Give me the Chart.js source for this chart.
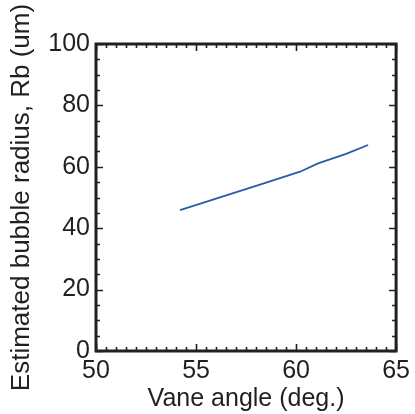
<!DOCTYPE html>
<html>
<head>
<meta charset="utf-8">
<script src="https://cdn.jsdelivr.net/npm/chart.js@4/dist/chart.umd.min.js"></script>
<style>
  html, body { margin: 0; padding: 0; background: #fff; }
  #wrap { width: 415px; height: 414px; }
</style>
</head>
<body>
<div id="wrap"><canvas id="c" width="415" height="414"></canvas></div>
<script>
// Vane angle (deg.) and estimated bubble radius Rb (um)
const vaneAngle = [54.2, 56.0, 58.0, 60.2, 61.1, 62.5, 63.6];
const bubbleRadius = [45.9, 49.6, 53.8, 58.4, 61.1, 64.2, 67.1];

const xTicks = [50, 55, 60, 65];
const yTicks = [0, 20, 40, 60, 80, 100];
const xMinorStep = 0.5;
const yMinorStep = 5;

const ink = '#231f20';
const font = 'Liberation Sans, Arial, sans-serif';

// Boxed frame with inward major/minor ticks on all four sides
const framePlugin = {
  id: 'frame',
  afterDraw(chart) {
    const { ctx, chartArea: a, scales } = chart;
    const xs = scales.x, ys = scales.y;
    ctx.save();
    ctx.strokeStyle = ink;
    ctx.lineWidth = 1.6;
    const major = 7, minor = 4;
    for (let v = xs.min; v <= xs.max + 1e-9; v += xMinorStep) {
      const isMajor = xTicks.some(t => Math.abs(t - v) < 1e-6);
      const len = isMajor ? major : minor;
      const px = Math.round(xs.getPixelForValue(v)) + 0.5;
      ctx.beginPath();
      ctx.moveTo(px, a.bottom); ctx.lineTo(px, a.bottom - len);
      ctx.moveTo(px, a.top); ctx.lineTo(px, a.top + len);
      ctx.stroke();
    }
    for (let v = ys.min; v <= ys.max + 1e-9; v += yMinorStep) {
      const isMajor = yTicks.some(t => Math.abs(t - v) < 1e-6);
      const len = isMajor ? major : minor;
      const py = Math.round(ys.getPixelForValue(v)) + 0.5;
      ctx.beginPath();
      ctx.moveTo(a.left, py); ctx.lineTo(a.left + len, py);
      ctx.moveTo(a.right, py); ctx.lineTo(a.right - len, py);
      ctx.stroke();
    }
    ctx.lineWidth = 3;
    ctx.strokeRect(a.left, a.top, a.right - a.left, a.bottom - a.top);
    ctx.restore();
  }
};

new Chart(document.getElementById('c'), {
  type: 'scatter',
  data: {
    datasets: [{
      data: vaneAngle.map((x, i) => ({ x, y: bubbleRadius[i] })),
      showLine: true,
      borderColor: '#2b5aa8',
      borderWidth: 1.8,
      pointRadius: 0,
      tension: 0
    }]
  },
  options: {
    responsive: false,
    animation: false,
    devicePixelRatio: 1,
    layout: { padding: { left: 0, top: 44, right: 14, bottom: 0 } },
    plugins: { legend: { display: false }, tooltip: { enabled: false } },
    scales: {
      x: {
        type: 'linear', min: 50, max: 65,
        afterBuildTicks: s => { s.ticks = xTicks.map(v => ({ value: v })); },
        afterFit: s => { s.height = 63; },
        grid: { display: false, drawTicks: false },
        border: { display: false },
        ticks: { color: ink, font: { family: font, size: 25 }, padding: 5, maxRotation: 0, autoSkip: false },
        title: { display: true, text: 'Vane angle (deg.)', color: ink, font: { family: font, size: 25 }, padding: { top: -6, bottom: 0 } }
      },
      y: {
        type: 'linear', min: 0, max: 100,
        afterBuildTicks: s => { s.ticks = yTicks.map(v => ({ value: v })); },
        afterFit: s => { s.width = 96; },
        grid: { display: false, drawTicks: false },
        border: { display: false },
        ticks: { color: ink, font: { family: font, size: 25 }, padding: 6, autoSkip: false },
        title: { display: true, text: 'Estimated bubble radius, Rb (um)', color: ink, font: { family: font, size: 26 }, padding: { top: 6, bottom: 0 } }
      }
    }
  },
  plugins: [framePlugin]
});
</script>
</body>
</html>
